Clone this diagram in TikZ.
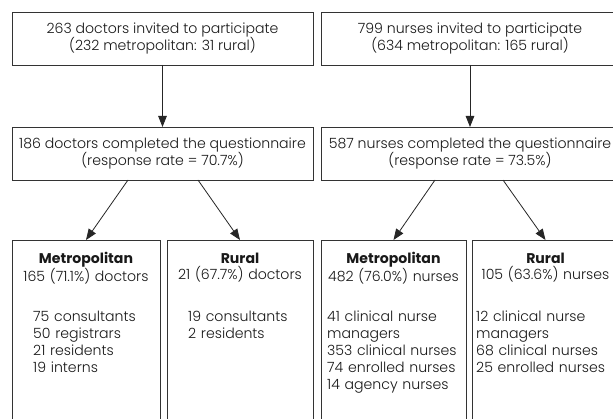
\documentclass[tikz,border=0pt]{standalone}
\usepackage{fontspec}
\setmainfont{Poppins}[UprightFont=* Light, BoldFont=* Bold]
\usetikzlibrary{arrows.meta,calc}
\begin{document}
\begin{tikzpicture}[x=1pt,y=-1pt,
  box/.style={draw=black!80, line width=0.9pt, inner sep=0pt, outer sep=0pt},
  txt/.style={font=\fontsize{14.1}{17.5}\selectfont, text=black!90, inner sep=0pt},
  lst/.style={txt, font=\fontsize{14.1}{17}\selectfont},
  hdr/.style={txt, font=\fontsize{14.1}{16}\selectfont},
  arr/.style={draw=black!85, line width=0.8pt, -{Triangle[length=11pt,width=8.5pt]}}
]
\useasboundingbox[fill=white] (0,0) rectangle (613,419);
\clip (0,0) rectangle (613,419);

% top row
\node[box, txt, align=center, minimum width=301pt, minimum height=53pt] (d1) at (162.5,38.5)
  {263 doctors invited to participate\\(232 metropolitan: 31 rural)};
\node[box, txt, align=center, minimum width=298pt, minimum height=53pt] (n1) at (470,38.5)
  {799 nurses invited to participate\\(634 metropolitan: 165 rural)};

% second row
\node[box, txt, align=center, minimum width=301pt, minimum height=53pt] (d2) at (162.5,153.5)
  {186 doctors completed the questionnaire\\(response rate = 70.7\%)};
\node[box, txt, align=center, minimum width=298pt, minimum height=53pt] (n2) at (470,153.5)
  {587 nurses completed the questionnaire\\(response rate = 73.5\%)};

% bottom row boxes
\node[box, minimum width=148pt, minimum height=200pt, anchor=north west] (dm) at (12,240) {};
\node[box, minimum width=146pt, minimum height=200pt, anchor=north west] (dr) at (167,240) {};
\node[box, minimum width=145pt, minimum height=200pt, anchor=north west] (nm) at (321,240) {};
\node[box, minimum width=147pt, minimum height=200pt, anchor=north west] (nr) at (472,240) {};

% headers
\node[hdr, anchor=base, align=center, text width=146pt] (dmh) at ([yshift=-24pt]dm.north)
  {\textbf{Metropolitan}\\165 (71.1\%) doctors};
\node[hdr, anchor=base, align=center, text width=146pt] (drh) at ([yshift=-24pt]dr.north)
  {\textbf{Rural}\\21 (67.7\%) doctors};
\node[hdr, anchor=base, align=center, text width=145pt] (nmh) at ([yshift=-24pt]nm.north)
  {\textbf{Metropolitan}\\482 (76.0\%) nurses};
\node[hdr, anchor=base, align=center, text width=147pt] (nrh) at ([yshift=-24pt]nr.north)
  {\textbf{Rural}\\105 (63.6\%) nurses};

% lists
\node[lst, anchor=base west, align=left, text width=125pt] (dml) at ([xshift=21pt,yshift=-82pt]dm.north west)
  {75 consultants\\50 registrars\\21 residents\\19 interns};
\node[lst, anchor=base west, align=left, text width=125pt] (drl) at ([xshift=21pt,yshift=-82pt]dr.north west)
  {19 consultants\\2 residents};
\node[lst, anchor=base west, align=left, text width=140pt] (nml) at ([xshift=6pt,yshift=-82pt]nm.north west)
  {41 clinical nurse\\managers\\353 clinical nurses\\74 enrolled nurses\\14 agency nurses};
\node[lst, anchor=base west, align=left, text width=142pt] (nrl) at ([xshift=4pt,yshift=-82pt]nr.north west)
  {12 clinical nurse\\managers\\68 clinical nurses\\25 enrolled nurses};

% connectors
\draw[arr] (d1.south) -- (d2.north);
\draw[arr] (n1.south) -- (n2.north);
\draw[arr] ([xshift=-34.5pt]d2.south) -- (dm.north);
\draw[arr] ([xshift=35.5pt]d2.south) -- (dr.north);
\draw[arr] ([xshift=-35pt]n2.south) -- (nm.north);
\draw[arr] ([xshift=33pt]n2.south) -- (nr.north);
\end{tikzpicture}
\end{document}
